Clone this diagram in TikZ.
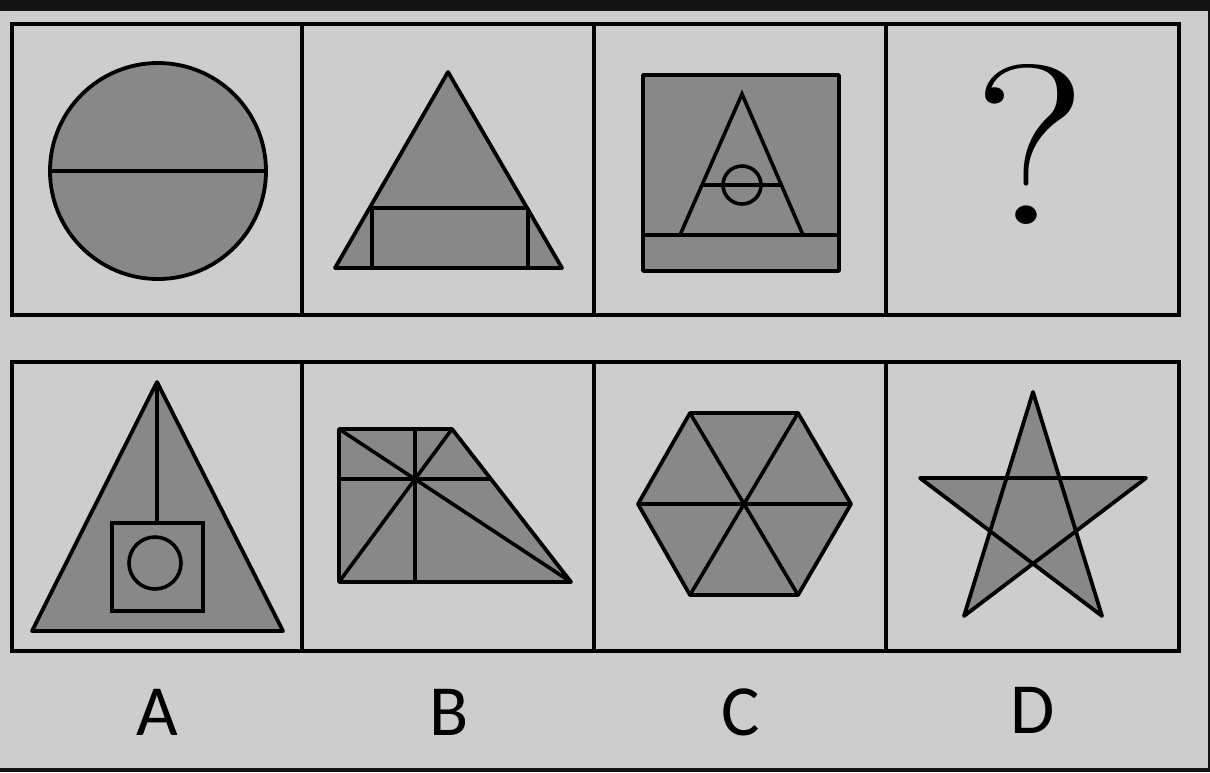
\documentclass[tikz,border=0pt]{standalone}
\usepackage{fontspec}
\newfontfamily\labelfont{Carlito}
\begin{document}
\begin{tikzpicture}[x=0.5pt,y=-0.5pt,
  frame/.style={draw=black,line width=2.1pt},
  shapefill/.style={draw=black,fill=shapegrey,line width=1.9pt,line join=round},
  inner/.style={draw=black,line width=1.8pt},
  optlabel/.style={font=\labelfont\fontsize{36}{36}\selectfont,text=black,inner sep=0pt}]
\definecolor{bggrey}{HTML}{CDCDCD}
\definecolor{shapegrey}{HTML}{888888}
\definecolor{darkbar}{HTML}{141414}
\useasboundingbox (0,0) rectangle (1210,772);
\fill[bggrey] (0,0) rectangle (1210,772);
\fill[darkbar] (0,0) rectangle (1210,11);
\fill[darkbar] (0,768) rectangle (1210,772);
\fill[darkbar] (1208,0) rectangle (1210,772);
% frames
\draw[frame] (12,24) rectangle (1179,315);
\draw[frame] (302,24) -- (302,315);
\draw[frame] (594,24) -- (594,315);
\draw[frame] (886,24) -- (886,315);
\draw[frame] (12,362) rectangle (1179,651);
\draw[frame] (302,362) -- (302,651);
\draw[frame] (594,362) -- (594,651);
\draw[frame] (886,362) -- (886,651);
% top 1: circle
\draw[shapefill] (158,171) circle[radius=108];
\draw[inner] (50,171) -- (266,171);
% top 2: triangle with rectangle
\draw[shapefill] (448,72) -- (562,268) -- (335,268) -- cycle;
\draw[inner] (370,208) -- (528,208);
\draw[inner] (372,208) -- (372,268);
\draw[inner] (528,208) -- (528,268);
% top 3: square with triangle
\draw[shapefill] (643,75) rectangle (839,271);
\draw[inner] (643,235) -- (839,235);
\draw[inner] (680,235) -- (742,94) -- (803,235);
\draw[inner] (702,185) -- (782,185);
\draw[inner] (742,185) circle[radius=19];
% top 4: question mark
\node[inner sep=0pt,xscale=1.15] (q) at (1030,144) {\fontsize{114}{114}\selectfont ?};
% bottom A
\draw[shapefill] (157,382) -- (283,631) -- (32,631) -- cycle;
\draw[inner] (157,382) -- (157,523);
\draw[inner] (112,523) rectangle (203,611);
\draw[inner] (155,563) circle[radius=26];
% bottom B
\draw[shapefill] (339,429) -- (452,429) -- (571,582) -- (339,582) -- cycle;
\draw[inner] (415,429) -- (415,582);
\draw[inner] (339,479) -- (490,479);
\draw[inner] (339,429) -- (571,582);
\draw[inner] (452,429) -- (339,582);
% bottom C
\draw[shapefill] (638,504) -- (690,413) -- (798,413) -- (851,504) -- (798,595) -- (690,595) -- cycle;
\draw[inner] (638,504) -- (851,504);
\draw[inner] (690,413) -- (798,595);
\draw[inner] (798,413) -- (690,595);
% bottom D
\draw[shapefill] (1033,392) -- (964,616) -- (1146,478) -- (920,478) -- (1102,616) -- cycle;
% labels
\node[optlabel] (la) at (157,712) {A};
\node[optlabel] (lb) at (449,712) {B};
\node[optlabel] (lc) at (741,712) {C};
\node[optlabel] (ld) at (1033,710) {D};
\end{tikzpicture}
\end{document}
